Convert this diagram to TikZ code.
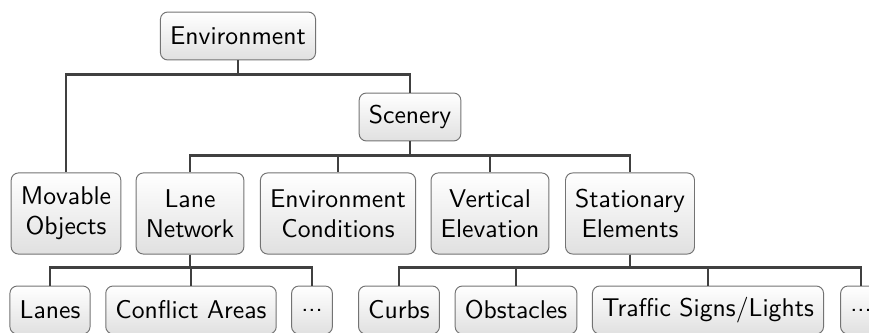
\documentclass[tikz,border=0pt]{standalone}
\usepackage{fontspec}
\usepackage{tikz}
\usetikzlibrary{positioning}

\begin{document}
\begin{tikzpicture}[
    x=0.413pt, y=-0.413pt,
    font=\sffamily\fontsize{10.6}{12.4}\selectfont,
    box/.style={rectangle, draw=black!55, rounded corners=3pt, top color=white, bottom color=black!12, inner xsep=4pt, minimum height=19.8pt, align=center},
    tall/.style={box, minimum height=33.5pt},
    link/.style={draw=black!75, line width=0.9pt}
]
    \useasboundingbox (0,0) rectangle (869,333);

    \node[box] (env) at (238,36) {Environment};
    \node[box] (scenery) at (410,117) {Scenery};

    \node[tall] (movable) at (66,213.5) {Movable\\Objects};
    \node[tall] (lanenet) at (190,213.5) {Lane\\Network};
    \node[tall] (envcond) at (338,213.5) {Environment\\Conditions};
    \node[tall] (vertelev) at (490,213.5) {Vertical\\Elevation};
    \node[tall] (stationary) at (630,213.5) {Stationary\\Elements};

    \node[box] (lanes) at (50,310) {Lanes};
    \node[box] (conflict) at (191,310) {Conflict Areas};
    \node[box] (lanemore) at (312,310) {...};
    \node[box] (curbs) at (399,310) {Curbs};
    \node[box] (obstacles) at (516,310) {Obstacles};
    \node[box] (signs) at (708,310) {Traffic Signs/Lights};
    \node[box] (statmore) at (861,310) {...};

    % tree edges
    \draw[link] (env.south) -- ++(0,14) -| (movable.north);
    \draw[link] (env.south) -- ++(0,14) -| (scenery.north);
    \foreach \child in {lanenet, envcond, vertelev, stationary}
        \draw[link] (scenery.south) -- ++(0,14) -| (\child.north);
    \foreach \child in {lanes, conflict, lanemore}
        \draw[link] (lanenet.south) -- ++(0,13) -| (\child.north);
    \foreach \child in {curbs, obstacles, signs, statmore}
        \draw[link] (stationary.south) -- ++(0,13) -| (\child.north);
\end{tikzpicture}
\end{document}
